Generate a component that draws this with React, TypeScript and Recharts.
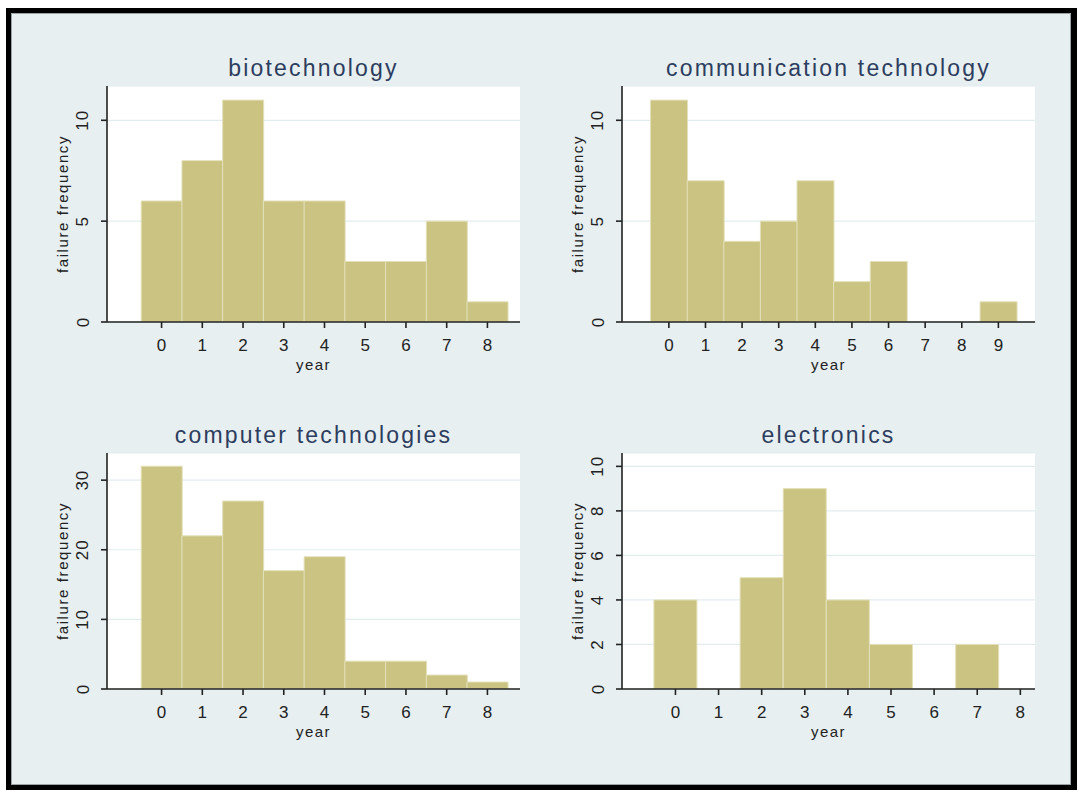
import { BarChart, Bar, XAxis, YAxis, CartesianGrid } from "recharts"

const bioYears = [0, 1, 2, 3, 4, 5, 6, 7, 8]
const bioCounts = [6, 8, 11, 6, 6, 3, 3, 5, 1]
const bioYTicks = [0, 5, 10]

const commYears = [0, 1, 2, 3, 4, 5, 6, 7, 8, 9]
const commCounts = [11, 7, 4, 5, 7, 2, 3, 0, 0, 1]
const commYTicks = [0, 5, 10]

const compYears = [0, 1, 2, 3, 4, 5, 6, 7, 8]
const compCounts = [32, 22, 27, 17, 19, 4, 4, 2, 1]
const compYTicks = [0, 10, 20, 30]

const elecYears = [0, 1, 2, 3, 4, 5, 6, 7, 8]
const elecCounts = [4, 0, 5, 9, 4, 2, 0, 2, 0]
const elecYTicks = [0, 2, 4, 6, 8, 10]

const BAR = "#cac381"
const BAR_EDGE = "#e4e0ba"
const AXIS = "#222"
const FONT = "'Liberation Sans', Arial, sans-serif"

const W = 520
const H = 380

function YTick(props: any) {
  const { x, y, payload } = props
  return (
    <text
      x={x}
      y={y}
      transform={`rotate(-90 ${x} ${y})`}
      textAnchor="middle"
      dominantBaseline="central"
      fontSize={17}
      fontFamily={FONT}
      fill={AXIS}
      style={{ letterSpacing: 1 }}
    >
      {payload.value}
    </text>
  )
}

type PanelProps = {
  title: string
  years: number[]
  counts: number[]
  xDomain: [number, number]
  yDomain: [number, number]
  yTicks: number[]
  left: number
  top: number
}

function Panel({ title, years, counts, xDomain, yDomain, yTicks, left, top }: PanelProps) {
  const data = years.map((year, i) => ({ year, count: counts[i] }))
  return (
    <div style={{ position: "absolute", left, top, width: W, height: H }}>
      <div
        style={{
          position: "absolute",
          left: 95,
          width: 413,
          top: 42,
          textAlign: "center",
          fontFamily: FONT,
          fontSize: 23,
          lineHeight: "24px",
          letterSpacing: 2.2,
          color: "#2d3d5e",
        }}
      >
        {title}
      </div>
      <BarChart
        width={W}
        height={H}
        data={data}
        margin={{ top: 72, right: 12, bottom: 12, left: 6 }}
        barCategoryGap={0}
        barGap={0}
      >
        <CartesianGrid vertical={false} fill="#ffffff" stroke="#e2ecef" strokeWidth={1.2} />
        <XAxis
          type="number"
          dataKey="year"
          domain={xDomain}
          ticks={years}
          interval={0}
          allowDataOverflow
          height={60}
          tickSize={6}
          tickMargin={11}
          stroke={AXIS}
          strokeWidth={1.6}
          tick={{ fontSize: 17, fill: AXIS, fontFamily: FONT }}
          label={{
            value: "year",
            position: "insideTop",
            offset: 37,
            fontSize: 15,
            fill: AXIS,
            fontFamily: FONT,
            style: { letterSpacing: 1.5 },
          }}
        />
        <YAxis
          type="number"
          domain={yDomain}
          ticks={yTicks}
          interval={0}
          allowDataOverflow
          width={89}
          tickSize={6}
          tickMargin={18}
          stroke={AXIS}
          strokeWidth={1.6}
          tick={<YTick />}
          label={{
            value: "failure frequency",
            position: "center",
            angle: -90,
            fontSize: 15,
            fill: AXIS,
            fontFamily: FONT,
            style: { letterSpacing: 1.6 },
          }}
        />
        <Bar
          dataKey="count"
          fill={BAR}
          stroke={BAR_EDGE}
          strokeWidth={1}
          isAnimationActive={false}
        />
      </BarChart>
    </div>
  )
}

export default function App() {
  return (
    <div
      style={{
        position: "absolute",
        left: 6,
        top: 8,
        width: 1071,
        height: 782,
        background: "#000",
      }}
    >
      <div
        style={{
          position: "absolute",
          left: 5,
          top: 5,
          width: 1060,
          height: 772,
          boxSizing: "border-box",
          border: "1px solid #9aa3a6",
          background: "#e7eff1",
        }}
      >
        <Panel
          title="biotechnology"
          years={bioYears}
          counts={bioCounts}
          xDomain={[-1.34, 8.8]}
          yDomain={[0, 11.7]}
          yTicks={bioYTicks}
          left={0}
          top={0}
        />
        <Panel
          title="communication technology"
          years={commYears}
          counts={commCounts}
          xDomain={[-1.28, 10.0]}
          yDomain={[0, 11.7]}
          yTicks={commYTicks}
          left={515}
          top={0}
        />
        <Panel
          title="computer technologies"
          years={compYears}
          counts={compCounts}
          xDomain={[-1.34, 8.8]}
          yDomain={[0, 33.9]}
          yTicks={compYTicks}
          left={0}
          top={367}
        />
        <Panel
          title="electronics"
          years={elecYears}
          counts={elecCounts}
          xDomain={[-1.24, 8.34]}
          yDomain={[0, 10.6]}
          yTicks={elecYTicks}
          left={515}
          top={367}
        />
      </div>
    </div>
  )
}
